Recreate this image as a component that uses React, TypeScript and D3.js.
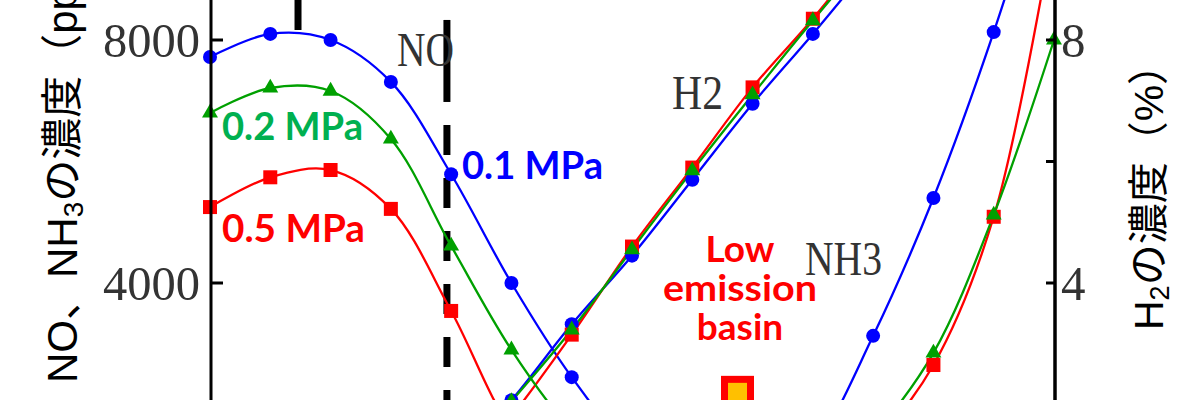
import React from 'react';
import * as d3 from 'd3';

// Operating condition index (x)
const conditions = [0, 1, 2, 3, 4, 5, 6, 7, 8, 9, 10, 11, 12, 13, 14];

// NO concentration (ppm) per pressure
const noBlue = [7720, 8100, 8000, 7310, 5790, 4000, 2450, 1230, 500, null, null, null, null, null, null];
const noGreen = [6800, 7210, 7160, 6370, 4610, 2900, 1560, 600, null, null, null, null, null, null, null];
const noRed = [5250, 5740, 5860, 5220, 3540, 1600, 600, null, null, null, null, null, null, null, null];

// H2 concentration (%) per pressure
const h2Blue = [null, null, null, null, 1.0, 2.07, 3.32, 4.45, 5.7, 6.95, 8.1, 9.3, null, null, null];
const h2Green = [null, null, null, null, 0.9, 2.05, 3.23, 4.55, 5.85, 7.1, 8.32, 9.5, null, null, null];
const h2Red = [null, null, null, null, 0.6, 1.8, 3.15, 4.6, 5.9, 7.22, 8.35, 9.6, null, null, null];

// NH3 concentration (ppm) per pressure
const nh3Blue = [null, null, null, null, null, null, null, null, null, 300, 1250, 3130, 5400, 8130, 11300];
const nh3Green = [null, null, null, null, null, null, null, null, null, null, 500, 1480, 2850, 5120, 8000];
const nh3Red = [null, null, null, null, null, null, null, null, null, null, 400, 1330, 2650, 5090, 9900];

const leftTicks = [4000, 8000];
const rightTicks = [4, 6, 8];
const rightTickLabels = ['4', '', '8'];

const pressureLabels = ['0.1 MPa', '0.2 MPa', '0.5 MPa'];
const basinLabel = ['Low', 'emission', 'basin'];
const basinPoint = { x: 8.75, ppm: 2200 };
const thickLine = { x: 1.46, from: 9500, to: 8165 };
const noBoundary = { x: 3.93, top: 8330, solidEnd: 6980, dashStart: 6600, bottom: 0 };

export default function App() {
  const W = 1200, H = 400;
  const x = d3.scaleLinear().domain([0, 14]).range([210, 1054]);
  const yL = d3.scaleLinear().domain([0, 8000]).range([526, 40]);
  const yR = d3.scaleLinear().domain([0, 8]).range([526, 40]);

  const mkLine = (scale: any) =>
    d3.line<any>()
      .defined((d: any) => d.v != null)
      .x((d: any) => x(d.x))
      .y((d: any) => scale(d.v))
      .curve(d3.curveCatmullRom.alpha(0.5));

  const toPts = (arr: (number | null)[]) => conditions.map((c, i) => ({ x: c, v: arr[i] }));

  const BLUE = '#0000ff', GREEN = '#00a000', RED = '#ff0000';

  const series = [
    { vals: noBlue, scale: yL, color: BLUE, shape: 'circle' },
    { vals: h2Blue, scale: yR, color: BLUE, shape: 'circle' },
    { vals: nh3Blue, scale: yL, color: BLUE, shape: 'circle' },
    { vals: noRed, scale: yL, color: RED, shape: 'square' },
    { vals: h2Red, scale: yR, color: RED, shape: 'square' },
    { vals: nh3Red, scale: yL, color: RED, shape: 'square' },
    { vals: noGreen, scale: yL, color: GREEN, shape: 'tri' },
    { vals: h2Green, scale: yR, color: GREEN, shape: 'tri' },
    { vals: nh3Green, scale: yL, color: GREEN, shape: 'tri' },
  ];

  const triPath = d3.symbol().type(d3.symbolTriangle).size(110)() as string;

  const marker = (shape: string, cx: number, cy: number, color: string, key: string) => {
    if (shape === 'circle') return <circle key={key} cx={cx} cy={cy} r={7} fill={color} />;
    if (shape === 'square') return <rect key={key} x={cx - 7} y={cy - 7} width={14} height={14} fill={color} />;
    return <path key={key} d={triPath} transform={`translate(${cx},${cy})`} fill={color} />;
  };

  const serif = '"Liberation Serif", "Times New Roman", serif';
  const sans = '"Liberation Sans", Arial, "Noto Sans CJK JP", sans-serif';
  const bold = 'Lato, "Open Sans", sans-serif';

  return (
    <svg width={W} height={H} style={{ position: 'absolute', left: 0, top: 0, background: '#fff' }}>
      <rect x={0} y={0} width={W} height={H} fill="#fff" />

      {/* reference lines */}
      <line x1={x(thickLine.x)} x2={x(thickLine.x)} y1={yL(thickLine.from)} y2={yL(thickLine.to)} stroke="#000" strokeWidth={7} />
      <line x1={x(noBoundary.x)} x2={x(noBoundary.x)} y1={yL(noBoundary.top)} y2={yL(noBoundary.solidEnd)} stroke="#000" strokeWidth={7} />
      <line x1={x(noBoundary.x)} x2={x(noBoundary.x)} y1={yL(noBoundary.dashStart)} y2={yL(noBoundary.bottom)} stroke="#000" strokeWidth={7} strokeDasharray="30 23" />

      {/* series lines */}
      {series.map((s, i) => (
        <path key={'l' + i} d={mkLine(s.scale)(toPts(s.vals)) || ''} fill="none" stroke={s.color} strokeWidth={2.3} />
      ))}
      {/* markers */}
      {series.map((s, i) =>
        toPts(s.vals).filter(p => p.v != null).map((p, j) => marker(s.shape, x(p.x), s.scale(p.v as number), s.color, `m${i}-${j}`))
      )}

      {/* axes */}
      <line x1={211} x2={211} y1={0} y2={H} stroke="#000" strokeWidth={3} />
      <line x1={1055} x2={1055} y1={0} y2={H} stroke="#000" strokeWidth={3.5} />
      {leftTicks.map(t => (
        <g key={'lt' + t}>
          <line x1={211} x2={223} y1={yL(t)} y2={yL(t)} stroke="#000" strokeWidth={3} />
          <text x={200} y={yL(t) + 17} textAnchor="end" fontFamily={serif} fontSize={49} fill="#333" textLength={97} lengthAdjust="spacingAndGlyphs">{t}</text>
        </g>
      ))}
      {rightTicks.map((t, i) => (
        <g key={'rt' + t}>
          <line x1={1046} x2={1055} y1={yR(t)} y2={yR(t)} stroke="#000" strokeWidth={3} />
          {rightTickLabels[i] && (
            <text x={1061} y={yR(t) + 17} textAnchor="start" fontFamily={serif} fontSize={49} fill="#333">{rightTickLabels[i]}</text>
          )}
        </g>
      ))}

      {/* axis titles */}
      <text transform={`translate(77,383) rotate(-90)`} fontFamily={sans} fontSize={42} fill="#000">
        NO、NH<tspan fontSize={28} dy={6}>3</tspan><tspan dy={-6}>の濃度（ppm）</tspan>
      </text>
      <text transform={`translate(1163,330) rotate(-90)`} fontFamily={sans} fontSize={41} fill="#000">
        H<tspan fontSize={27} dy={6}>2</tspan><tspan dy={-6}>の濃度（%）</tspan>
      </text>

      {/* gas labels */}
      <text x={397} y={66} fontFamily={serif} fontSize={48} fill="#333" textLength={57} lengthAdjust="spacingAndGlyphs">NO</text>
      <text x={672} y={109} fontFamily={serif} fontSize={48} fill="#333" textLength={51} lengthAdjust="spacingAndGlyphs">H2</text>
      <text x={805} y={275} fontFamily={serif} fontSize={48} fill="#333" textLength={77} lengthAdjust="spacingAndGlyphs">NH3</text>

      {/* pressure labels */}
      <text x={462} y={179} fontFamily={bold} fontWeight={700} fontSize={38} fill={BLUE} textLength={141} lengthAdjust="spacingAndGlyphs">{pressureLabels[0]}</text>
      <text x={222} y={140} fontFamily={bold} fontWeight={700} fontSize={38} fill="#00b050" textLength={141} lengthAdjust="spacingAndGlyphs">{pressureLabels[1]}</text>
      <text x={222} y={242} fontFamily={bold} fontWeight={700} fontSize={38} fill={RED} textLength={143} lengthAdjust="spacingAndGlyphs">{pressureLabels[2]}</text>

      {/* basin annotation */}
      <text textAnchor="middle" fontFamily={bold} fontWeight={700} fontSize={37} fill={RED}>
        {basinLabel.map((t, i) => (
          <tspan key={t} x={740} y={262 + i * 39} textLength={i === 1 ? 154 : undefined} lengthAdjust="spacingAndGlyphs">{t}</tspan>
        ))}
      </text>
      <rect x={x(basinPoint.x) - 13} y={yL(basinPoint.ppm) - 13} width={26} height={26} fill="#ffc000" stroke={RED} strokeWidth={7} />
    </svg>
  );
}
